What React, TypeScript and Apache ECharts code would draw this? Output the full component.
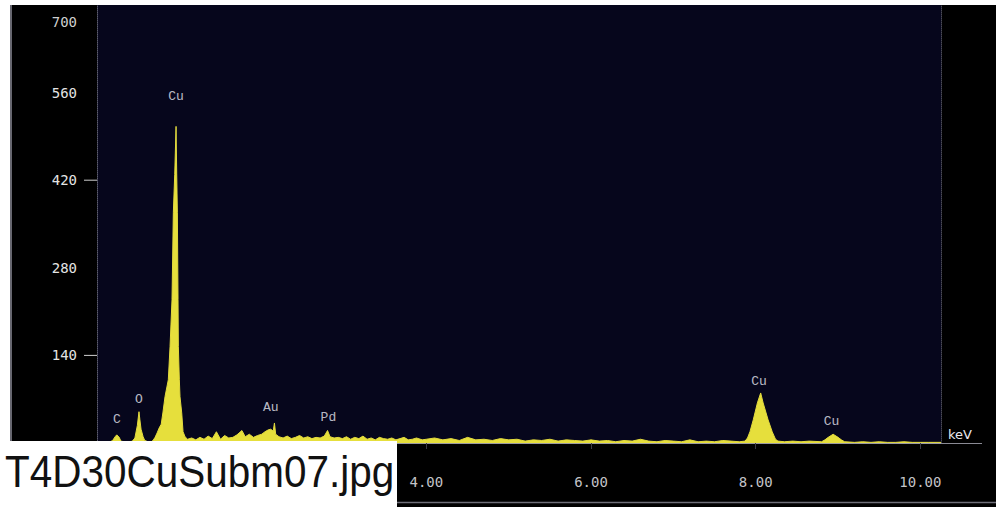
import React, { useEffect, useRef } from "react";
import * as echarts from "echarts";

// EDS spectrum: [energy keV, counts]
const spectrum: [number, number][] = [
  [0.0, 0], [0.04, 1], [0.1, 1], [0.16, 2], [0.19, 4], [0.22, 10], [0.24, 13], [0.27, 9], [0.29, 3],
  [0.33, 2], [0.38, 1], [0.43, 3], [0.46, 8], [0.49, 28], [0.51, 50], [0.52, 38], [0.535, 22],
  [0.56, 10], [0.58, 4], [0.62, 2], [0.66, 2], [0.68, 4], [0.705, 9], [0.73, 16], [0.755, 24],
  [0.78, 30], [0.8, 48], [0.826, 74], [0.866, 101], [0.887, 154], [0.911, 229], [0.927, 368],
  [0.944, 429], [0.96, 506], [0.968, 430], [0.976, 368], [0.984, 229], [0.988, 154], [1.0, 101],
  [1.008, 74], [1.029, 48], [1.045, 18], [1.069, 10], [1.1, 6],
  [1.15, 8], [1.2, 5], [1.25, 9], [1.3, 6], [1.35, 11], [1.4, 7], [1.45, 18], [1.5, 6], [1.55, 12],
  [1.6, 8], [1.65, 9], [1.7, 13], [1.76, 20], [1.8, 10], [1.85, 14], [1.9, 9], [1.95, 12], [2.0, 14],
  [2.04, 18], [2.08, 21], [2.11, 22], [2.14, 19], [2.155, 32], [2.17, 14], [2.21, 10], [2.26, 8],
  [2.31, 11], [2.36, 7], [2.41, 9], [2.46, 12], [2.51, 8], [2.56, 10], [2.61, 7], [2.66, 9],
  [2.71, 8], [2.76, 11], [2.8, 20], [2.83, 10], [2.88, 8], [2.93, 9], [2.98, 7], [3.03, 10],
  [3.08, 6], [3.13, 9], [3.18, 7], [3.23, 11], [3.28, 6], [3.33, 8], [3.38, 5], [3.43, 9], [3.48, 7],
  [3.53, 6], [3.58, 8], [3.63, 5], [3.68, 7], [3.73, 9], [3.78, 5], [3.83, 6], [3.88, 8],
  [3.95, 5], [4.0, 6], [4.1, 8], [4.2, 5], [4.3, 7], [4.4, 4], [4.5, 9], [4.6, 5], [4.7, 6], [4.8, 4],
  [4.9, 7], [5.0, 5], [5.1, 6], [5.2, 3], [5.3, 5], [5.4, 4], [5.5, 6], [5.6, 3], [5.7, 5], [5.8, 4],
  [5.9, 3], [6.0, 5], [6.1, 3], [6.2, 4], [6.3, 2], [6.4, 4], [6.5, 3], [6.6, 6], [6.7, 3], [6.8, 2],
  [6.9, 4], [7.0, 3], [7.1, 2], [7.2, 5], [7.3, 2], [7.4, 3], [7.5, 2], [7.6, 4], [7.7, 3], [7.8, 2],
  [7.87, 3], [7.9, 8], [7.93, 18], [7.97, 37], [8.02, 64], [8.06, 80], [8.09, 64], [8.15, 37],
  [8.2, 18], [8.24, 6], [8.27, 3], [8.35, 2], [8.45, 3], [8.55, 2], [8.65, 3], [8.8, 2], [8.84, 5],
  [8.88, 9], [8.94, 14], [9.0, 9], [9.04, 5], [9.08, 2], [9.2, 1], [9.3, 2], [9.4, 1], [9.5, 2],
  [9.6, 1], [9.7, 1], [9.8, 2], [9.9, 1], [10.0, 1], [10.1, 1], [10.25, 1],
];

// Peak identification labels: name, energy (keV), label height (counts)
const peakNames = ["C", "O", "Cu", "Au", "Pd", "Cu", "Cu"];
const peakKeV = [0.243, 0.51, 0.96, 2.11, 2.81, 8.04, 8.92];
const peakLabelCounts = [37, 69, 554, 56, 40, 99, 35];

// Axis settings
const yMin = 0;
const yMax = 700;
const yInterval = 140;
const yMarkedTicks = [140, 420];
const xMin = 0;
const xMax = 10.25;
const xInterval = 2;
const xFirstShownLabel = 4;
const xAxisName = "keV";
const fileName = "T4D30CuSubm07.jpg";

export default function App() {
  const ref = useRef<HTMLDivElement>(null);

  useEffect(() => {
    if (!ref.current) return;
    const chart = echarts.init(ref.current, undefined, { renderer: "svg" });
    const axisFont = '"DejaVu Sans Mono", monospace';
    chart.setOption({
      animation: false,
      backgroundColor: "#000000",
      grid: {
        left: 97,
        top: 5,
        width: 844,
        height: 438,
        show: true,
        backgroundColor: "#06061c",
        borderWidth: 0,
        outerBoundsMode: "none",
        containLabel: false,
      },
      xAxis: {
        type: "value",
        min: xMin,
        max: xMax,
        interval: xInterval,
        name: xAxisName,
        nameLocation: "end",
        nameGap: 7,
        nameTextStyle: {
          color: "#e8e8ee",
          fontFamily: '"DejaVu Sans", sans-serif',
          fontSize: 13,
          align: "left",
          verticalAlign: "bottom",
          padding: [0, 0, 2, 0],
        },
        axisLine: { show: true, onZero: false, lineStyle: { color: "#9a9aa4", width: 1 } },
        axisTick: { show: true, length: 6, lineStyle: { color: "#3a3a44" } },
        splitLine: { show: false },
        axisLabel: {
          margin: 32,
          color: "#c4c4c8",
          fontFamily: axisFont,
          fontSize: 14,
          formatter: (v: number) => (v >= xFirstShownLabel ? v.toFixed(2) : ""),
        },
      },
      yAxis: [
        {
          type: "value",
          min: yMin,
          max: yMax,
          interval: yInterval,
          position: "left",
          axisLine: { show: true, lineStyle: { color: "#5c5c6c", width: 1, type: "dotted" } },
          axisTick: { show: false },
          splitLine: { show: false },
          axisLabel: {
            margin: 20,
            showMinLabel: false,
            formatter: (v: number) => (v === yMax ? `{top|${v}}` : `{n|${v}}`),
            rich: {
              n: { color: "#e4e4e4", fontFamily: axisFont, fontSize: 14 },
              top: { color: "#d0d0d0", fontFamily: axisFont, fontSize: 14, padding: [34, 0, 0, 0] },
            },
          },
        },
        {
          type: "value",
          min: yMin,
          max: yMax,
          interval: yInterval,
          position: "right",
          axisLine: { show: true, lineStyle: { color: "#4a4a58", width: 1, type: "dotted" } },
          axisTick: { show: false },
          axisLabel: { show: false },
          splitLine: { show: false },
        },
      ],
      graphic: [
        // white margins of the scanned picture
        { type: "rect", z: 100, shape: { x: 0, y: 0, width: 996, height: 5 }, style: { fill: "#ffffff" } },
        { type: "rect", z: 100, shape: { x: 0, y: 0, width: 10, height: 507 }, style: { fill: "#ffffff" } },
        { type: "line", z: 100, shape: { x1: 11, y1: 5, x2: 11, y2: 441 }, style: { stroke: "#8a8a96", lineWidth: 1.5 } },
        // baseline continues into the right panel
        { type: "line", z: 100, shape: { x1: 941, y1: 443.5, x2: 982, y2: 443.5 }, style: { stroke: "#8a8a94", lineWidth: 1 } },
        // bottom grey line of the tick-label strip
        { type: "line", z: 100, shape: { x1: 397, y1: 502.5, x2: 996, y2: 502.5 }, style: { stroke: "#6e6e78", lineWidth: 1.5 } },
        // white file-name box
        { type: "rect", z: 110, shape: { x: 0, y: 441, width: 397, height: 66 }, style: { fill: "#ffffff" } },
        {
          type: "text",
          z: 111,
          x: 5,
          y: 472,
          scaleX: 0.92,
          style: {
            x: 0,
            y: 0,
            text: fileName,
            fill: "#111111",
            font: '44px "Liberation Sans", Arial, sans-serif',
            verticalAlign: "middle",
            align: "left",
          },
        },
      ],
      series: [
        {
          type: "line",
          data: spectrum,
          showSymbol: false,
          symbol: "none",
          lineStyle: { color: "#e2da3e", width: 1 },
          areaStyle: { color: "#e6df3c", opacity: 1 },
          itemStyle: { color: "#e2da3e" },
          z: 3,
        },
        {
          type: "scatter",
          data: peakNames.map((n, i) => ({ name: n, value: [peakKeV[i], peakLabelCounts[i]] })),
          symbolSize: 1,
          itemStyle: { color: "rgba(0,0,0,0)" },
          label: {
            show: true,
            position: "inside",
            formatter: (p: any) => p.name,
            color: "#e8e8f2",
            fontFamily: '"Liberation Mono", monospace',
            fontSize: 13,
          },
          z: 4,
        },
        {
          type: "custom",
          data: yMarkedTicks.map((v) => [xMin, v]),
          renderItem: (_params: any, api: any) => {
            const p = api.coord([xMin, api.value(1)]);
            return {
              type: "line",
              shape: { x1: p[0] - 13, y1: p[1], x2: p[0], y2: p[1] },
              style: { stroke: "#cfcfcf", lineWidth: 1 },
            };
          },
          clip: false,
          z: 5,
        },
      ],
    });
    return () => chart.dispose();
  }, []);

  return (
    <div
      ref={ref}
      style={{ position: "fixed", left: 0, top: 0, width: 996, height: 507 }}
    />
  );
}
